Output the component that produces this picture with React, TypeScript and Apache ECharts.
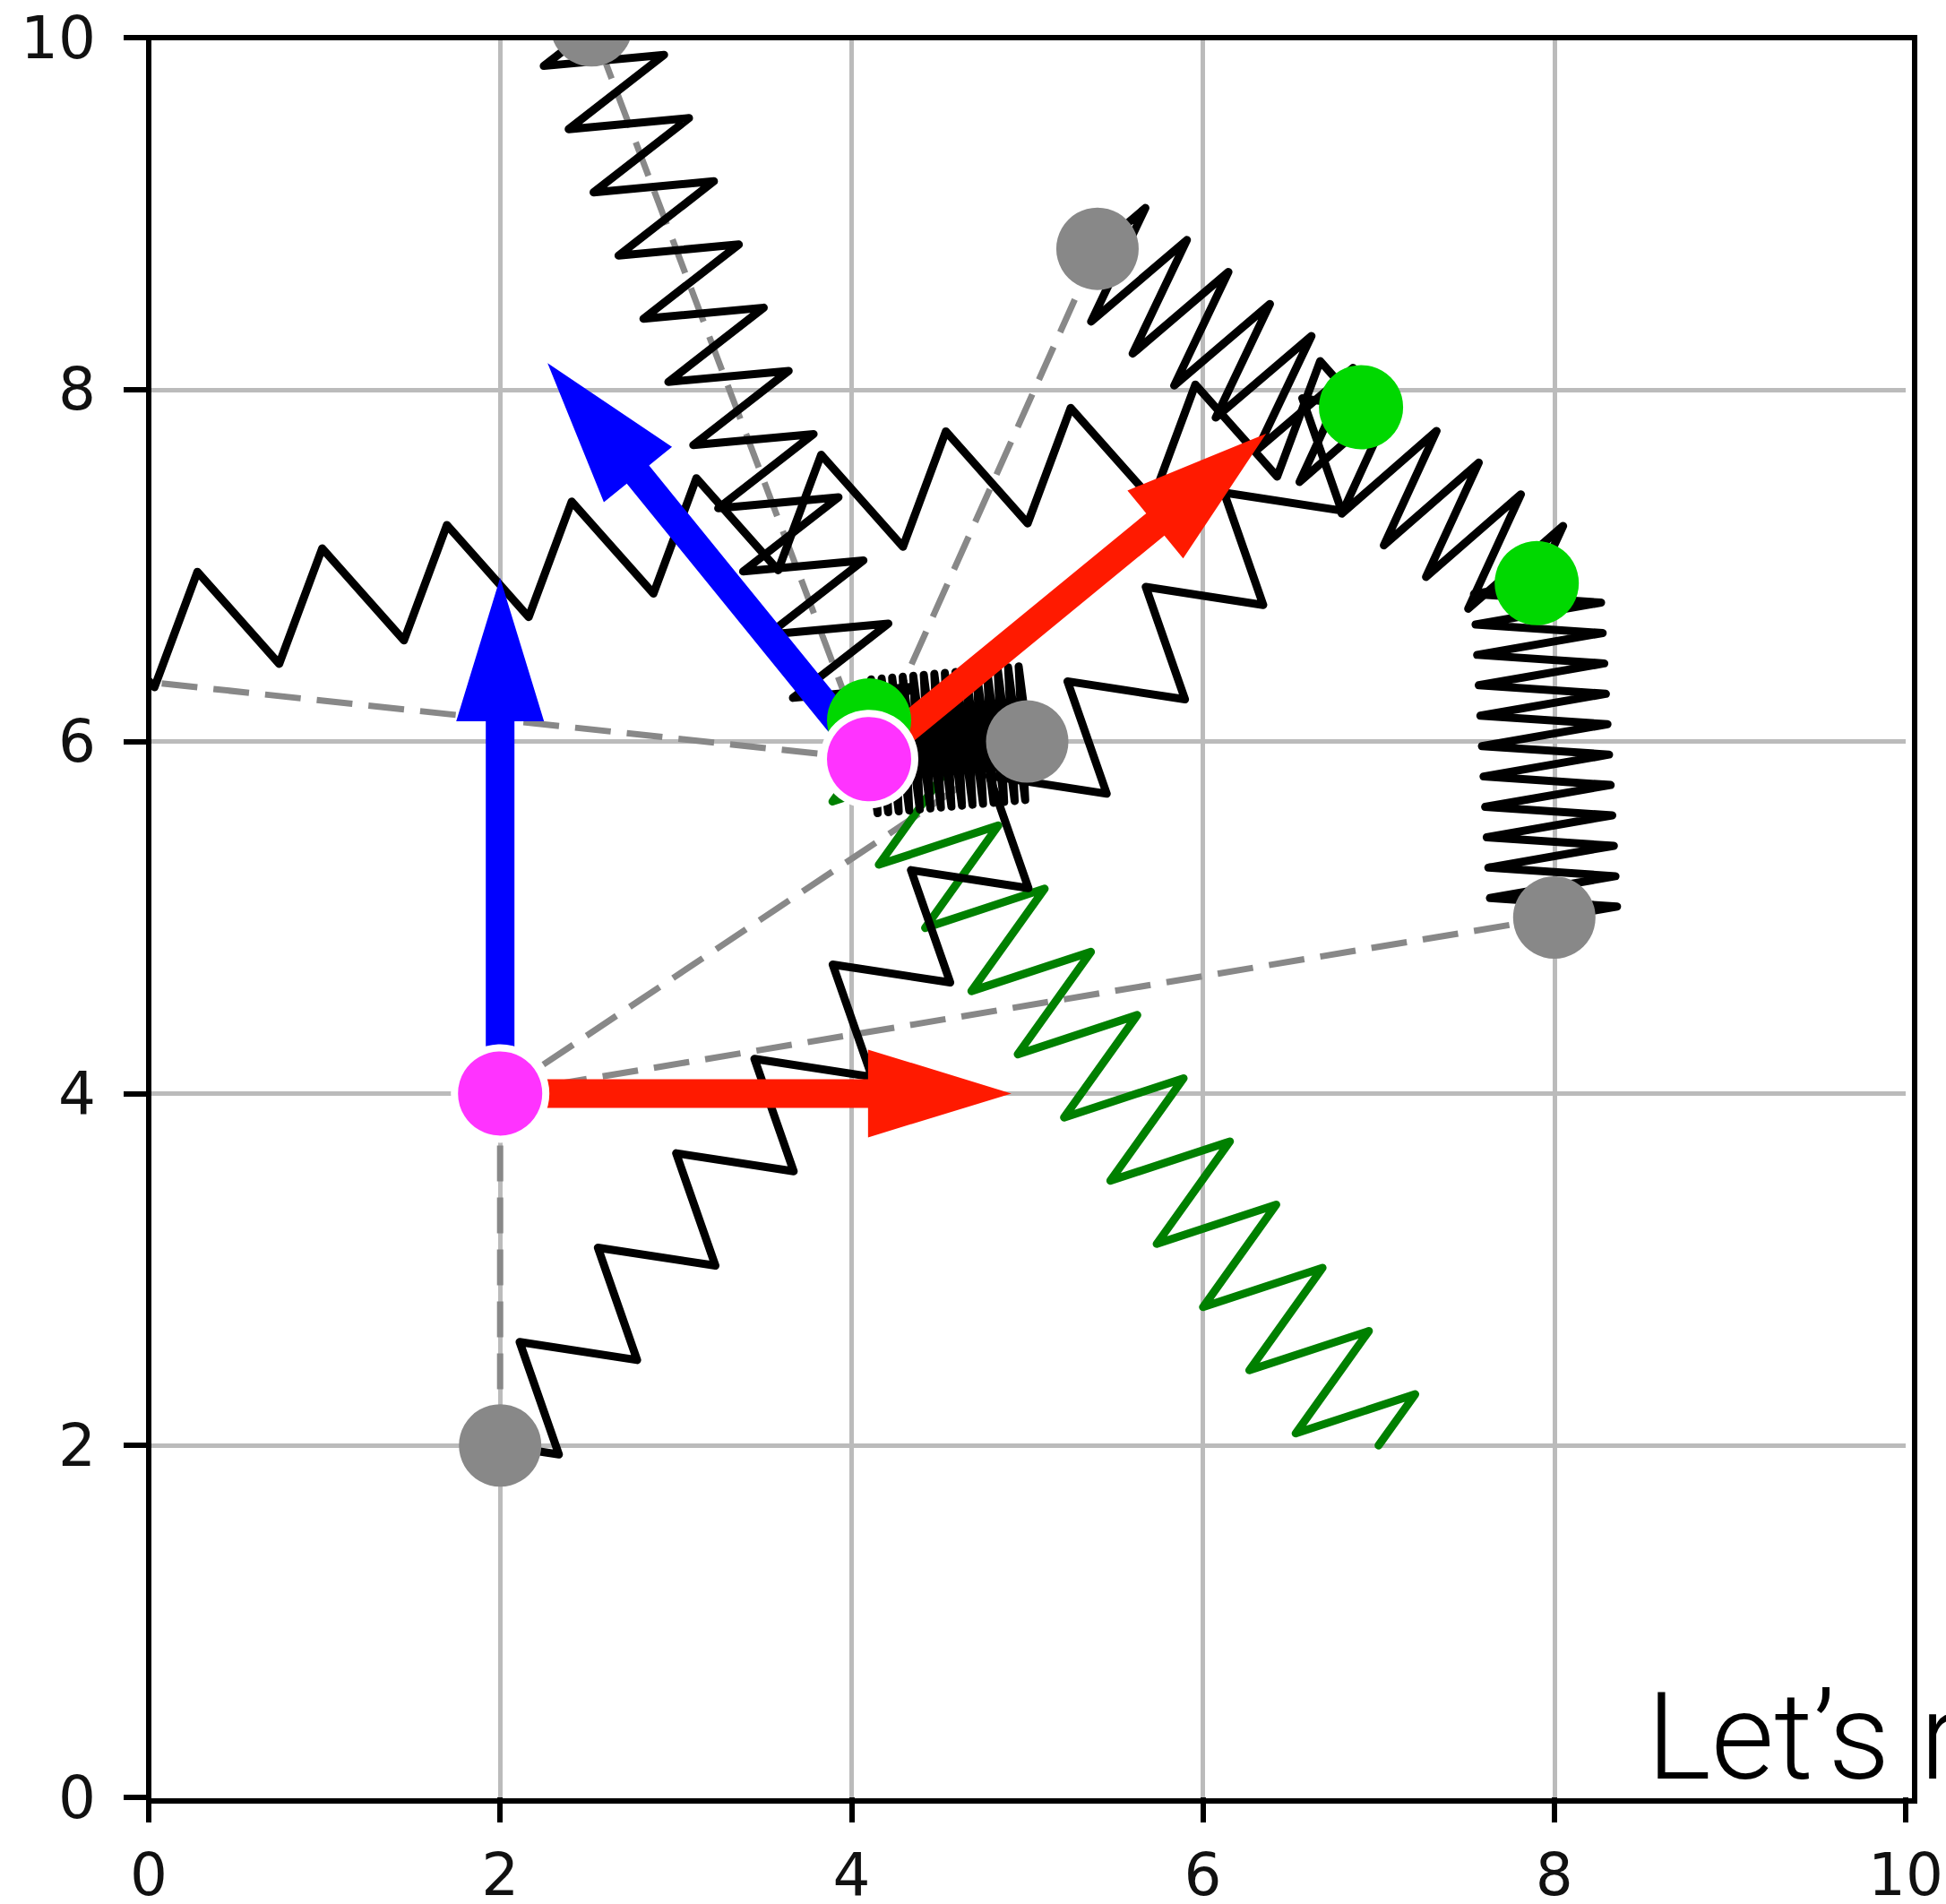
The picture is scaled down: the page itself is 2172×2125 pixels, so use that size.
import React, { useEffect, useRef } from 'react';
import * as echarts from 'echarts';

// axis ticks
const axisTicks = [0, 2, 4, 6, 8, 10];

// node positions (data units)
const anchorPoints = [[2, 2], [5, 6], [8, 5], [5.4, 8.8], [2.52, 10.07], [-0.3, 6.37]];
const massPoints = [[4.1, 6.12], [6.9, 7.9], [7.9, 6.9]];
const bodyPoints = [[2, 4], [4.1, 5.9]];

// dashed links: x0, y0, x1, y1
const links = [
  [2, 4, 2, 2],
  [2, 4, 5, 6],
  [2, 4, 8, 5],
  [4.1, 5.9, -0.3, 6.37],
  [4.1, 5.9, 5.4, 8.8],
  [4.1, 5.9, 2.52, 10.07],
  [4.1, 5.9, 5, 6],
];

// springs: x0, y0, x1, y1, node count, half width
const blackSprings = [
  [-0.2, 6.57, 6.9, 7.9, 20, 0.3],
  [2, 2, 6.9, 7.9, 22, 0.29],
  [2.52, 10.05, 4.08, 6.1, 22, 0.33],
  [6.7, 7.8, 5.4, 8.8, 11, 0.35],
  [6.7, 7.8, 7.9, 6.9, 10, 0.35],
  [7.9, 6.9, 8, 5, 22, 0.36],
  [4.1, 5.97, 5, 6.05, 30, 0.38],
];
const greenSprings = [[7, 2, 4.1, 5.95, 22, 0.34]];

// force arrows: x0, y0, x1, y1
const blueArrows = [[2, 4, 2, 6.93], [4.1, 5.9, 2.27, 8.15]];
const redArrows = [[2, 4, 4.91, 4], [4.1, 5.9, 6.36, 7.75]];

const GRID = { left: 166, right: 35, top: 42, bottom: 115 };
const W = 2172;
const H = 2125;

function springItem(color: string, lw: number) {
  return (params: any, api: any) => {
    const x0 = api.value(0), y0 = api.value(1), x1 = api.value(2), y1 = api.value(3);
    const n = api.value(4), a = api.value(5);
    const dx = x1 - x0, dy = y1 - y0;
    const L = Math.hypot(dx, dy);
    const ux = dx / L, uy = dy / L;
    const px = -uy, py = ux;
    const pts: number[][] = [api.coord([x0, y0])];
    for (let i = 1; i <= n; i++) {
      const t = (2 * i - 1) / (2 * n);
      const s = (i % 2 === 0 ? 1 : -1) * a;
      pts.push(api.coord([x0 + dx * t + px * s, y0 + dy * t + py * s]));
    }
    pts.push(api.coord([x1, y1]));
    return {
      type: 'polyline',
      shape: { points: pts },
      style: { stroke: color, lineWidth: lw, fill: null, lineJoin: 'round', lineCap: 'round' },
    };
  };
}

function arrowItem(color: string) {
  return (params: any, api: any) => {
    const p0 = api.coord([api.value(0), api.value(1)]);
    const p1 = api.coord([api.value(2), api.value(3)]);
    const dx = p1[0] - p0[0], dy = p1[1] - p0[1];
    const L = Math.hypot(dx, dy);
    const ux = dx / L, uy = dy / L;
    const nx = -uy, ny = ux;
    const hl = 160, hw = 49, sw = 16;
    const bx = p1[0] - ux * hl, by = p1[1] - uy * hl;
    const pts = [
      [p0[0] + nx * sw, p0[1] + ny * sw],
      [bx + nx * sw, by + ny * sw],
      [bx + nx * hw, by + ny * hw],
      [p1[0], p1[1]],
      [bx - nx * hw, by - ny * hw],
      [bx - nx * sw, by - ny * sw],
      [p0[0] - nx * sw, p0[1] - ny * sw],
    ];
    return { type: 'polygon', shape: { points: pts }, style: { fill: color } };
  };
}

function dotItem(fill: string, r: number, stroke?: string, lw?: number) {
  return (params: any, api: any) => {
    const c = api.coord([api.value(0), api.value(1)]);
    return {
      type: 'circle',
      shape: { cx: c[0], cy: c[1], r },
      style: { fill, stroke: stroke || null, lineWidth: lw || 0 },
    };
  };
}

export default function App() {
  const ref = useRef<HTMLDivElement>(null);
  useEffect(() => {
    if (!ref.current) return;
    const chart = echarts.init(ref.current, undefined, { renderer: 'svg' });
    const axisCommon = {
      type: 'value',
      min: axisTicks[0],
      max: axisTicks[axisTicks.length - 1],
      interval: axisTicks[1] - axisTicks[0],
      axisLine: { show: false },
      axisTick: { show: true, length: 28, lineStyle: { color: '#000', width: 6 } },
      splitLine: { show: true, showMinLine: false, showMaxLine: false, lineStyle: { color: '#bbbbbb', width: 5 } },
    };
    chart.setOption({
      animation: false,
      backgroundColor: '#fff',
      grid: { ...GRID, show: false, containLabel: false },
      xAxis: {
        ...axisCommon,
        axisLabel: { margin: 53, color: '#111', fontSize: 66, fontFamily: 'DejaVu Sans' },
      },
      yAxis: {
        ...axisCommon,
        axisLabel: { margin: 59, color: '#111', fontSize: 66, fontFamily: 'DejaVu Sans' },
      },
      series: [
        {
          type: 'custom',
          clip: true,
          z: 2,
          data: links,
          renderItem: (params: any, api: any) => {
            const a = api.coord([api.value(0), api.value(1)]);
            const b = api.coord([api.value(2), api.value(3)]);
            return {
              type: 'line',
              shape: { x1: a[0], y1: a[1], x2: b[0], y2: b[1] },
              style: { stroke: '#888888', lineWidth: 7, lineDash: [40, 18] },
            };
          },
        },
        { type: 'custom', clip: true, z: 3, data: greenSprings, renderItem: springItem('#008000', 9) },
        { type: 'custom', clip: true, z: 3, data: blackSprings, renderItem: springItem('#000000', 9) },
        { type: 'custom', clip: true, z: 4, data: blueArrows, renderItem: arrowItem('#0000ff') },
        { type: 'custom', clip: true, z: 4, data: redArrows, renderItem: arrowItem('#ff1a00') },
        { type: 'custom', clip: true, z: 5, data: anchorPoints, renderItem: dotItem('#888888', 46) },
        { type: 'custom', clip: true, z: 5, data: massPoints, renderItem: dotItem('#00d800', 47) },
        { type: 'custom', clip: true, z: 6, data: bodyPoints, renderItem: dotItem('#ff33ff', 51, '#ffffff', 8) },
      ],
      graphic: [
        {
          type: 'rect',
          z: 100,
          shape: { x: GRID.left, y: GRID.top, width: W - GRID.left - GRID.right, height: H - GRID.top - GRID.bottom },
          style: { fill: null, stroke: '#000', lineWidth: 6 },
        },
        {
          type: 'text',
          z: 100,
          x: 1838,
          y: 1938,
          style: {
            text: 'Let\u2019s r',
            fill: '#000',
            font: '300 136px Roboto',
            verticalAlign: 'middle',
            align: 'left',
          },
        },
      ],
    });
    return () => chart.dispose();
  }, []);
  return <div ref={ref} style={{ position: 'fixed', left: 0, top: 0, width: W, height: H }} />;
}
